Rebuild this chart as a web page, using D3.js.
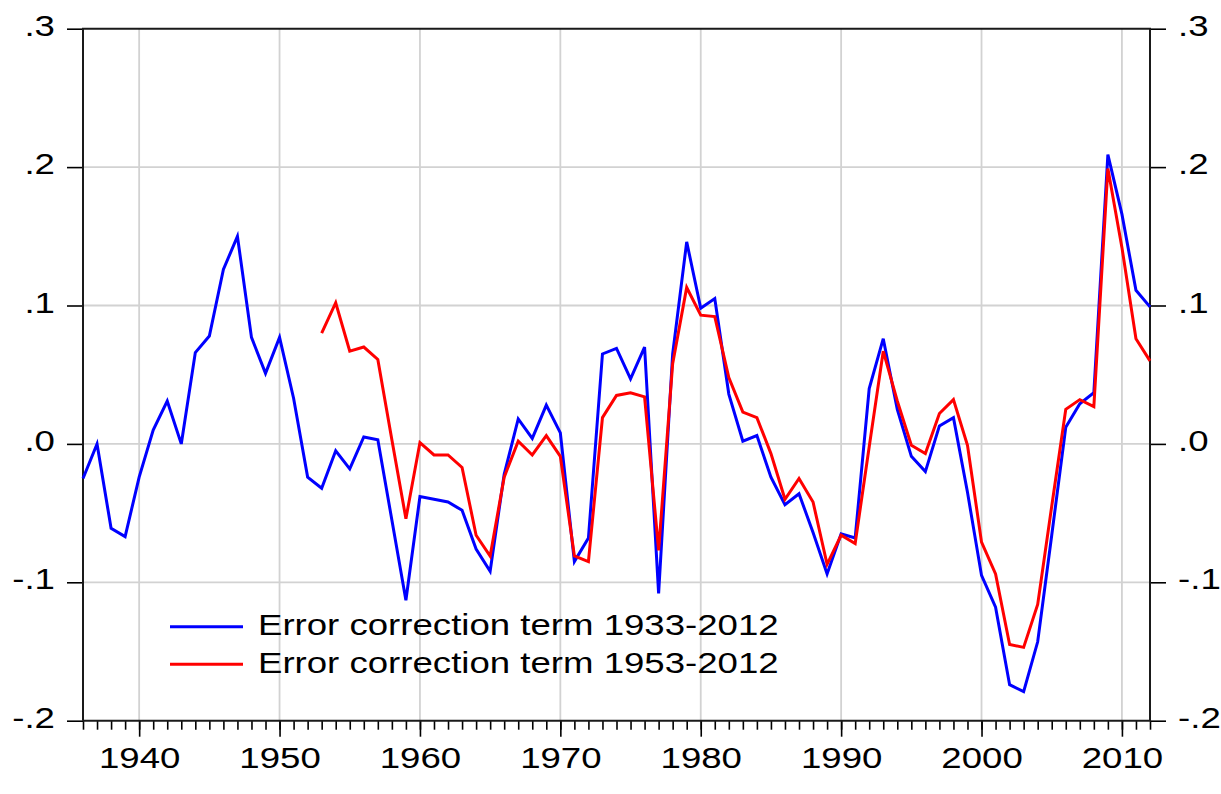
<!DOCTYPE html>
<head>
  <meta charset="utf-8">
  <script src="https://cdn.jsdelivr.net/npm/d3@7"></script>
  <style>
    body { margin:0; background:#fff; }
    svg { display:block; }
    text { font-family:"Liberation Sans", Arial, sans-serif; font-size:30px; fill:#000; }
  </style>
</head>

<body>
  <script>
  // error correction term, sample 1933-2012 (shown from 1936)
  var years = [1936,1937,1938,1939,1940,1941,1942,1943,1944,1945,1946,1947,1948,1949,
    1950,1951,1952,1953,1954,1955,1956,1957,1958,1959,1960,1961,1962,1963,1964,1965,
    1966,1967,1968,1969,1970,1971,1972,1973,1974,1975,1976,1977,1978,1979,1980,1981,
    1982,1983,1984,1985,1986,1987,1988,1989,1990,1991,1992,1993,1994,1995,1996,1997,
    1998,1999,2000,2001,2002,2003,2004,2005,2006,2007,2008,2009,2010,2011,2012];
  var ect1933 = [-0.025,0.000,-0.061,-0.067,-0.024,0.010,0.031,0.000,0.066,0.078,0.126,0.150,0.077,0.051,
    0.077,0.033,-0.024,-0.032,-0.005,-0.018,0.005,0.003,-0.055,-0.113,-0.038,-0.040,-0.042,-0.048,-0.076,-0.092,
    -0.022,0.018,0.004,0.028,0.008,-0.085,-0.068,0.065,0.069,0.047,0.070,-0.108,0.065,0.146,0.098,0.105,
    0.036,0.002,0.006,-0.024,-0.044,-0.036,-0.064,-0.094,-0.065,-0.068,0.040,0.076,0.025,-0.009,-0.020,0.013,
    0.019,-0.035,-0.095,-0.118,-0.174,-0.179,-0.143,-0.066,0.012,0.029,0.037,0.209,0.166,0.111,0.099];

  // error correction term, sample 1953-2012
  var years1953 = [1953,1954,1955,1956,1957,1958,1959,1960,1961,1962,1963,1964,1965,
    1966,1967,1968,1969,1970,1971,1972,1973,1974,1975,1976,1977,1978,1979,1980,1981,
    1982,1983,1984,1985,1986,1987,1988,1989,1990,1991,1992,1993,1994,1995,1996,1997,
    1998,1999,2000,2001,2002,2003,2004,2005,2006,2007,2008,2009,2010,2011,2012];
  var ect1953 = [0.080,0.102,0.067,0.070,0.061,0.003,-0.054,0.001,-0.008,-0.008,-0.017,-0.066,-0.081,
    -0.024,0.002,-0.008,0.006,-0.009,-0.081,-0.085,0.019,0.035,0.037,0.034,-0.077,0.058,0.113,0.093,0.092,
    0.048,0.023,0.019,-0.007,-0.040,-0.025,-0.042,-0.087,-0.066,-0.072,-0.002,0.067,0.031,-0.001,-0.007,0.022,
    0.032,-0.001,-0.071,-0.094,-0.145,-0.147,-0.116,-0.045,0.025,0.032,0.027,0.199,0.142,0.076,0.060];

  var yTickValues = [0.3, 0.2, 0.1, 0, -0.1, -0.2];
  var yTickLabels = [".3", ".2", ".1", ".0", "-.1", "-.2"];
  var xTickValues = [1940, 1950, 1960, 1970, 1980, 1990, 2000, 2010];
  var legendLabels = ["Error correction term 1933-2012", "Error correction term 1953-2012"];
  var legendColors = ["#0000ff", "#ff0000"];

  var width = 1221, height = 794;
  var plotL = 83, plotR = 1150, plotT = 28.7, plotB = 720.7;
  var stretch = "scale(1.22,1)";

  var svg = d3.select("body").append("svg")
    .attr("width", width).attr("height", height);

  var x = d3.scaleLinear().domain([1936, 2012]).range([plotL, plotR]);
  var y = d3.scaleLinear().domain([-0.2, 0.3]).range([plotB, plotT]);

  // grid
  svg.append("g").selectAll("line").data(xTickValues).enter().append("line")
    .attr("x1", d => x(d)).attr("x2", d => x(d))
    .attr("y1", plotT).attr("y2", plotB)
    .attr("stroke", "#d2d2d2").attr("stroke-width", 1.8);
  svg.append("g").selectAll("line").data(yTickValues.slice(1, 5)).enter().append("line")
    .attr("y1", d => y(d)).attr("y2", d => y(d))
    .attr("x1", plotL).attr("x2", plotR)
    .attr("stroke", "#d2d2d2").attr("stroke-width", 1.8);

  // axes
  var fmtY = function(d) { return yTickLabels[yTickValues.indexOf(d)]; };

  var gl = svg.append("g").attr("transform", "translate(" + plotL + ",0)")
    .call(d3.axisLeft(y).tickValues(yTickValues).tickFormat(fmtY).tickSize(16).tickPadding(7));
  var gr = svg.append("g").attr("transform", "translate(" + plotR + ",0)")
    .call(d3.axisRight(y).tickValues(yTickValues).tickFormat(fmtY).tickSize(16).tickPadding(7));
  var gbMinor = svg.append("g").attr("transform", "translate(0," + plotB + ")")
    .call(d3.axisBottom(x).tickValues(years).tickFormat("").tickSize(9));
  var gb = svg.append("g").attr("transform", "translate(0," + plotB + ")")
    .call(d3.axisBottom(x).tickValues(xTickValues).tickFormat(d3.format("d")).tickSize(16).tickPadding(10));

  [gl, gr, gbMinor, gb].forEach(function(g) {
    g.select(".domain").remove();
    g.selectAll("line").attr("stroke", "#000").attr("stroke-width", 1.6);
    g.selectAll("text").attr("font-size", 30).attr("font-family", "Liberation Sans, Arial, sans-serif")
      .attr("fill", "#000").attr("transform", stretch);
  });
  gl.selectAll("text").attr("dy", "0.22em");
  gr.selectAll("text").attr("dy", "0.22em");

  // frame
  svg.append("path")
    .attr("d", "M" + plotL + "," + plotB + "V" + plotT + "H" + plotR + "V" + plotB + "H" + plotL)
    .attr("fill", "none").attr("stroke", "#1a1a1a").attr("stroke-width", 2);

  // series
  var line = d3.line().x(d => x(d[0])).y(d => y(d[1]));
  svg.append("path").datum(d3.zip(years, ect1933))
    .attr("d", line).attr("fill", "none")
    .attr("stroke", legendColors[0]).attr("stroke-width", 3).attr("stroke-linejoin", "miter");
  svg.append("path").datum(d3.zip(years1953, ect1953))
    .attr("d", line).attr("fill", "none")
    .attr("stroke", legendColors[1]).attr("stroke-width", 3).attr("stroke-linejoin", "miter");

  // legend
  var leg = svg.append("g").selectAll("g").data(legendLabels).enter().append("g")
    .attr("transform", (d, i) => "translate(170," + (626.7 + i * 37.6) + ")");
  leg.append("line").attr("x1", 0).attr("x2", 73)
    .attr("stroke", (d, i) => legendColors[i]).attr("stroke-width", 3);
  leg.append("text").attr("transform", "translate(88,8.5) " + stretch).text(d => d);
  </script>
</body>
</html>
